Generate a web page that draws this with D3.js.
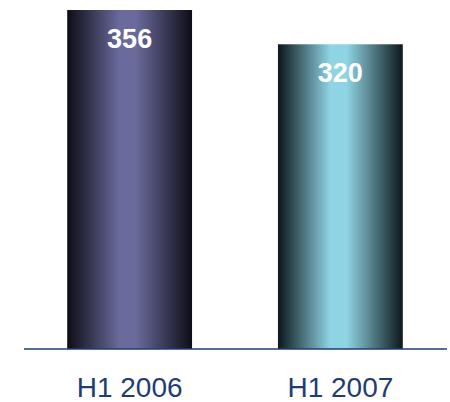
<!DOCTYPE html>
<html><head><meta charset="utf-8">
<script src="https://cdn.jsdelivr.net/npm/d3@7"></script>
<style>body{margin:0;background:#fff}</style>
</head><body>
<svg id="c" width="450" height="402"></svg>
<script>
const categories = ["H1 2006", "H1 2007"];
const values = [356, 320];
const edgeColors = ["#0d0d17", "#0c171b"];
const midColors = ["#6a6a9c", "#8fd4e4"];

const svg = d3.select("#c");
const baseY = 349;
const x = d3.scaleBand().domain(categories).range([24, 446]).paddingInner(0.4076).paddingOuter(0.205);
const y = d3.scaleLinear().domain([0, 356]).range([baseY, 10]);

const defs = svg.append("defs");
categories.forEach((c, i) => {
  const g = defs.append("linearGradient").attr("id", "g" + i).attr("x1", "0%").attr("x2", "100%").attr("y1", "0%").attr("y2", "0%");
  g.append("stop").attr("offset", "0%").attr("stop-color", edgeColors[i]);
  g.append("stop").attr("offset", "42%").attr("stop-color", midColors[i]);
  g.append("stop").attr("offset", "55%").attr("stop-color", midColors[i]);
  g.append("stop").attr("offset", "100%").attr("stop-color", edgeColors[i]);
});

svg.selectAll("rect.bar").data(values).enter().append("rect")
  .attr("class", "bar")
  .attr("x", (d, i) => x(categories[i]))
  .attr("width", x.bandwidth())
  .attr("y", d => y(d))
  .attr("height", d => baseY - y(d))
  .attr("fill", (d, i) => `url(#g${i})`);

svg.append("line").attr("x1", 24).attr("x2", 447).attr("y1", baseY).attr("y2", baseY)
  .attr("stroke", "#1f3d70").attr("stroke-width", 1.5);

svg.selectAll("text.val").data(values).enter().append("text")
  .attr("x", (d, i) => x(categories[i]) + x.bandwidth() / 2)
  .attr("y", d => y(d) + 38)
  .attr("text-anchor", "middle")
  .attr("font-family", "Liberation Sans, Arial, sans-serif")
  .attr("font-weight", "bold").attr("font-size", 27).attr("fill", "#fff")
  .text(d => d);

svg.selectAll("text.cat").data(categories).enter().append("text")
  .attr("x", d => x(d) + x.bandwidth() / 2)
  .attr("y", 397)
  .attr("text-anchor", "middle")
  .attr("font-family", "Liberation Sans, Arial, sans-serif")
  .attr("font-size", 28).attr("fill", "#1f3d70")
  .text(d => d);
</script>
</body></html>
